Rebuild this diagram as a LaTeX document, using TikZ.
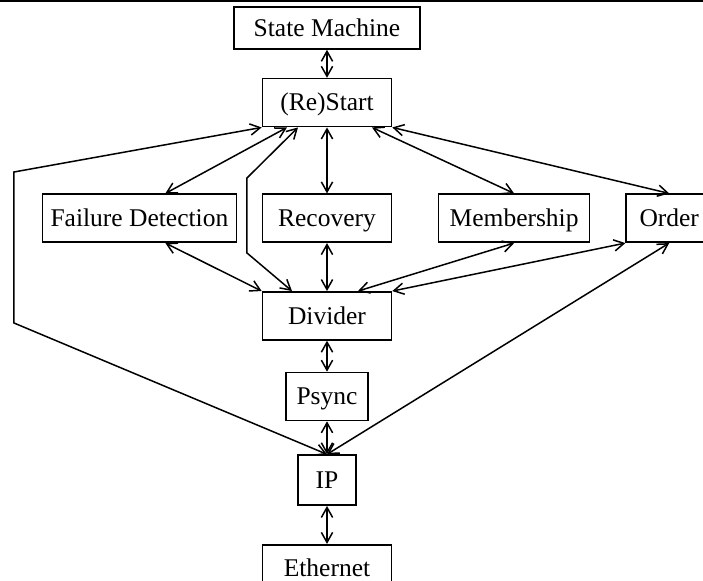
\documentclass[tikz,border=0pt]{standalone}
\usepackage{fontspec}
\setmainfont{Liberation Serif}
\usetikzlibrary{arrows.meta,positioning}

\begin{document}
\begin{tikzpicture}[
  font=\fontsize{10.2}{12}\selectfont,
  box/.style = {draw, rectangle, line width=0.65pt, inner sep=0pt,
                minimum height=19.2pt, align=center,
                text height=8.6pt, text depth=2pt},
  ar/.style  = {{Straight Barb[length=4pt,width=4.5pt]}-{Straight Barb[length=4pt,width=4.5pt]},
                line width=0.6pt},
]

%% --- page frame and top rule ---
\useasboundingbox (-130.8pt,11.2pt) rectangle (150.4pt,-221.2pt);
\clip (-130.8pt,11.2pt) rectangle (150.4pt,-221.2pt);
\coordinate (rulel) at (-130.8pt,10.6pt);
\coordinate (ruler) at (150.4pt,10.6pt);
\draw[line width=0.8pt] (rulel) -- (ruler);

%% --- central column ---
\node[box, minimum width=74.4pt, minimum height=16.8pt] (sm) at (0,0) {State Machine};
\node[box, minimum width=51.6pt, below=11.2pt of sm] (rs)  {(Re)Start};
\node[box, minimum width=51.6pt, below=26.4pt of rs] (rec) {Recovery};
\node[box, minimum width=51.6pt, below=19.2pt of rec] (dv) {Divider};
\node[box, minimum width=32.8pt, below=12.4pt of dv] (ps)  {Psync};
\node[box, minimum width=23.2pt, minimum height=20pt, below=13.2pt of ps] (ip) {IP};
\node[box, minimum width=51.6pt, below=15.2pt of ip] (eth) {Ethernet};

%% --- protocol row ---
\node[box, minimum width=77.6pt, left=9.8pt of rec]  (fd)  {Failure Detection};
\node[box, minimum width=60.4pt, right=18.2pt of rec] (mem) {Membership};
\node[box, minimum width=34.4pt, right=14pt of mem]  (ord) {Order};

%% --- bend points ---
\coordinate (lt) at (-125.2pt,-57.6pt);
\coordinate (lb) at (-125.2pt,-118pt);
\coordinate (mt) at (-32pt,-60pt);
\coordinate (mb) at (-32pt,-90pt);

%% --- arrows ---
\draw[ar] (sm) -- (rs);
\draw[ar] (rs.south west) -- (lt) -- (lb) -- (ip.north);
\draw[ar] ([xshift=-16pt]rs.south) -- ([xshift=10.4pt]fd.north);
\draw[ar] ([xshift=-11.6pt]rs.south) -- (mt) -- (mb) -- ([xshift=-14pt]dv.north);
\draw[ar] (rs) -- (rec);
\draw[ar] ([xshift=18pt]rs.south) -- (mem.north);
\draw[ar] (rs.south east) -- (ord.north);
\draw[ar] ([xshift=10.4pt]fd.south) -- (dv.north west);
\draw[ar] (rec) -- (dv);
\draw[ar] (mem.south) -- ([xshift=12.4pt]dv.north);
\draw[ar] (ord.south west) -- (dv.north east);
\draw[ar] (ord.south) -- (ip.north);
\draw[ar] (dv)  -- (ps);
\draw[ar] (ps)  -- (ip);
\draw[ar] (ip)  -- (eth);
\end{tikzpicture}
\end{document}
